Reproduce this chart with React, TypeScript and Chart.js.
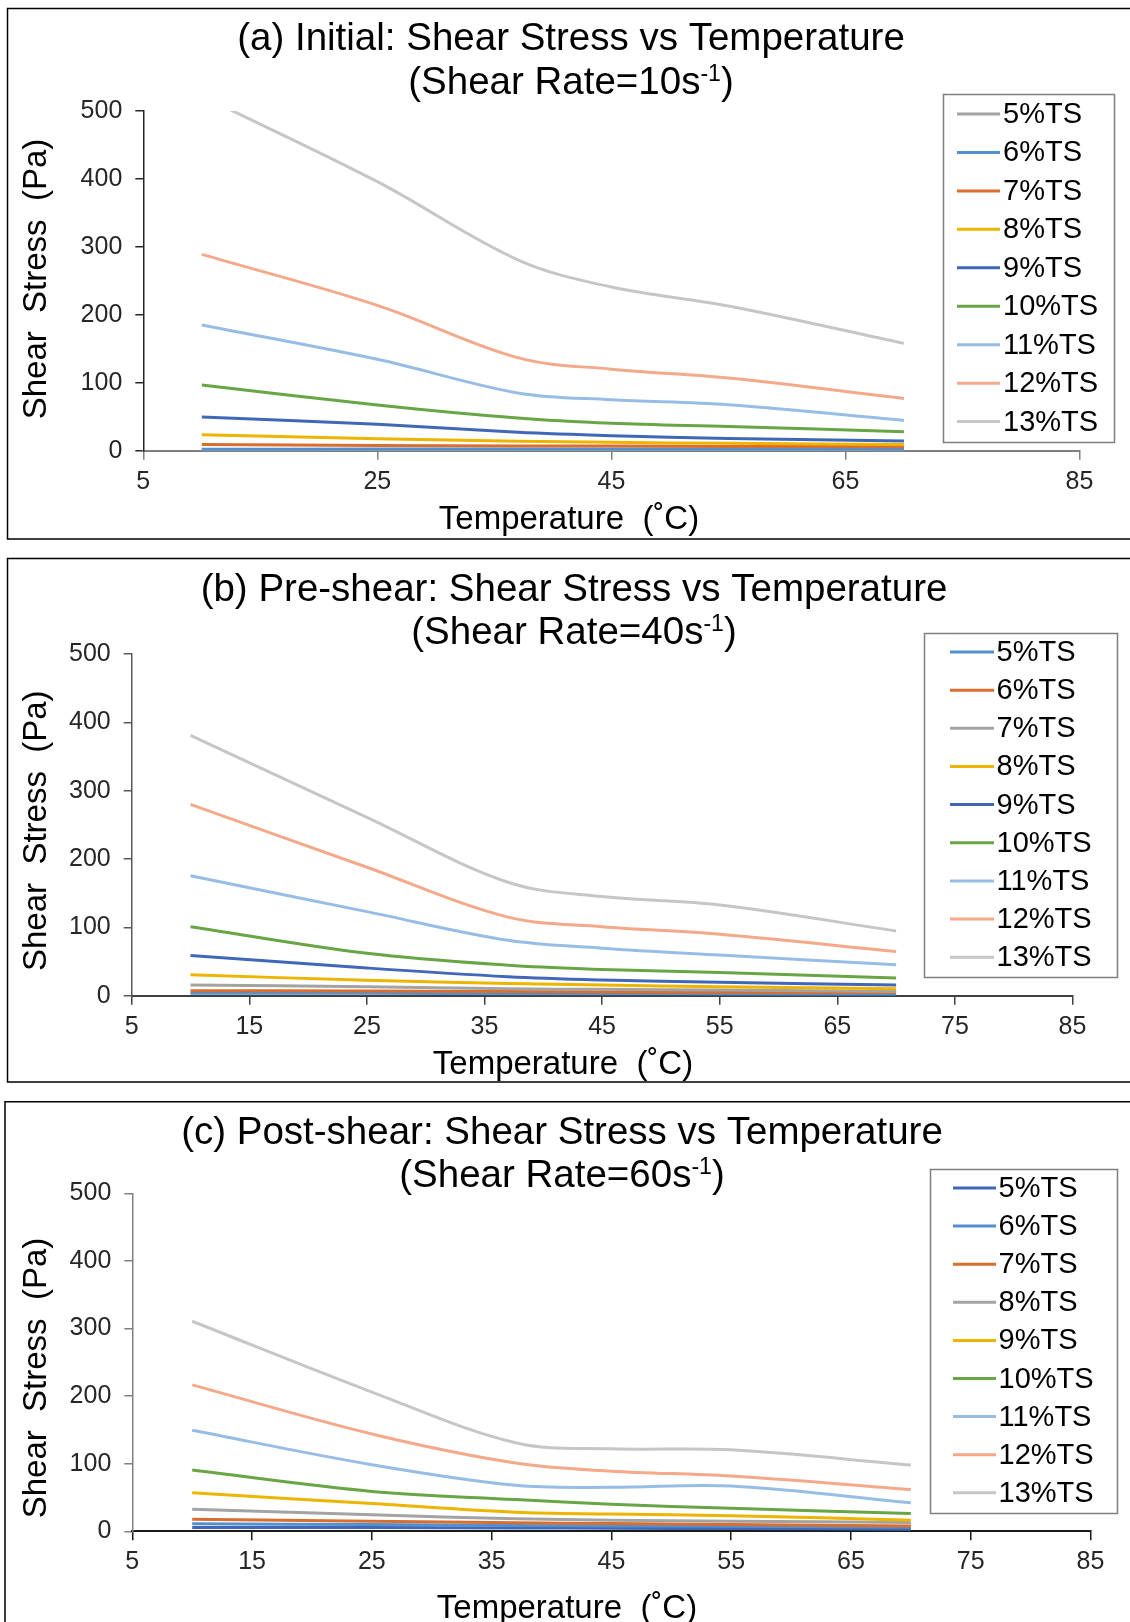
import React, { useEffect, useRef } from "react";
import { Chart, registerables } from "chart.js";

Chart.register(...registerables);

const FONT = '"Liberation Sans", Arial, Helvetica, "DejaVu Sans", sans-serif';

// ---------- data ----------
const TEMPERATURES = [10, 25, 37, 45, 55, 70];
const SERIES_LABELS = ["5%TS", "6%TS", "7%TS", "8%TS", "9%TS", "10%TS", "11%TS", "12%TS", "13%TS"];
const X_TICKS_A = [5, 25, 45, 65, 85];
const X_TICKS_BC = [5, 15, 25, 35, 45, 55, 65, 75, 85];
const Y_TICKS = [0, 100, 200, 300, 400, 500];

// (a) Initial, shear rate 10 s-1
const A_5TS = [0.6, 0.7, 0.7, 0.7, 0.7, 0.6];
const A_6TS = [2, 2.5, 2.5, 2.5, 2.5, 2.2];
const A_7TS = [9.3, 7.8, 7, 6.8, 6.3, 5.8];
const A_8TS = [23.5, 17.7, 14, 12.3, 10.8, 9];
const A_9TS = [49.5, 38.8, 27, 22, 18, 14.2];
const A_10TS = [96.7, 67.3, 48, 40.3, 35.5, 28];
const A_11TS = [185, 134.5, 85, 75, 67.5, 44.5];
const A_12TS = [289, 214, 137, 120, 107, 77];
const A_13TS = [522, 396, 281, 241, 213, 158];

// (b) Pre-shear, shear rate 40 s-1
const B_5TS = [3.5, 3.5, 3, 3, 2.5, 2];
const B_6TS = [7.3, 6.8, 6, 5.5, 5, 4.5];
const B_7TS = [15.7, 13, 10, 9.3, 8.3, 6.3];
const B_8TS = [30.7, 22.5, 18, 15.6, 13.2, 10.2];
const B_9TS = [59, 40.5, 27.8, 23, 19.5, 15.5];
const B_10TS = [101, 62, 44.5, 38.5, 34, 26];
const B_11TS = [175.6, 123, 81, 69.6, 59.5, 45.4];
const B_12TS = [280, 188, 115, 101, 90, 64.6];
const B_13TS = [381, 261, 166, 145, 132.7, 94.8];

// (c) Post-shear, shear rate 60 s-1
const C_5TS = [5.5, 5.5, 5, 4.5, 4, 3.2];
const C_6TS = [11, 10, 8.5, 8, 7.5, 6];
const C_7TS = [18, 15, 12.5, 11.5, 10, 8];
const C_8TS = [32.5, 24.5, 18.5, 16.5, 15, 13];
const C_9TS = [57, 41, 28, 25.5, 23, 16.5];
const C_10TS = [90.6, 59, 47, 40, 34, 26.5];
const C_11TS = [149.4, 98.5, 68, 65, 67, 42.3];
const C_12TS = [216.6, 144, 101, 89, 81.7, 61.7];
const C_13TS = [310.7, 206, 131, 122, 120.5, 98];

// ---------- styles ----------
const GRAY = "#A3A3A3";
const BLUE = "#5290CF";
const ORANGE = "#DA6E2E";
const YELLOW = "#EDB400";
const DBLUE = "#4168B8";
const GREEN = "#68A544";
const LBLUE = "#97BDE6";
const LORANGE = "#F4A98A";
const LGRAY = "#C6C6C6";

const TITLE_SIZE = 38.5;
const SUP_SIZE = 23;
const AXIS_TITLE_SIZE = 33;
const TICK_SIZE = 25;
const LEGEND_SIZE = 29;

type Spec = {
  key: string;
  top: number;
  height: number;
  series: number[][];
  colors: string[];
  xTicks: number[];
  plot: { left: number; right: number; top: number; bottom: number };
  frame: { left: number; top: number; bottom: number };
  title: { cx: number; b1: number; b2: number; line1: string; line2a: string; sup: string; line2b: string };
  yTitle: { x: number; cy: number };
  xTitle: { cx: number; b: number };
  legend: { x: number; y: number; w: number; h: number; firstY: number; step: number; lx1: number; lx2: number; tx: number };
  xColor: string;
  yColor: string;
};

const SPECS: Spec[] = [
  {
    key: "a",
    top: 0,
    height: 548,
    series: [A_5TS, A_6TS, A_7TS, A_8TS, A_9TS, A_10TS, A_11TS, A_12TS, A_13TS],
    colors: [GRAY, BLUE, ORANGE, YELLOW, DBLUE, GREEN, LBLUE, LORANGE, LGRAY],
    xTicks: X_TICKS_A,
    plot: { left: 143.3, right: 1079.5, top: 111, bottom: 450.7 },
    frame: { left: 7.5, top: 8.5, bottom: 539 },
    title: { cx: 571, b1: 50, b2: 94, line1: "(a) Initial: Shear Stress vs Temperature", line2a: "(Shear Rate=10s", sup: "-1", line2b: ")" },
    yTitle: { x: 34, cy: 279 },
    xTitle: { cx: 569, b: 529 },
    legend: { x: 943.5, y: 94.5, w: 171, h: 348, firstY: 114, step: 38.45, lx1: 957, lx2: 1000, tx: 1003 },
    xColor: "#7F7F7F",
    yColor: "#262626",
  },
  {
    key: "b",
    top: 548,
    height: 545,
    series: [B_5TS, B_6TS, B_7TS, B_8TS, B_9TS, B_10TS, B_11TS, B_12TS, B_13TS],
    colors: [BLUE, ORANGE, GRAY, YELLOW, DBLUE, GREEN, LBLUE, LORANGE, LGRAY],
    xTicks: X_TICKS_BC,
    plot: { left: 131.7, right: 1072.5, top: 106, bottom: 447.7 },
    frame: { left: 7.5, top: 10.5, bottom: 534 },
    title: { cx: 574, b1: 52.6, b2: 95.6, line1: "(b) Pre-shear: Shear Stress vs Temperature", line2a: "(Shear Rate=40s", sup: "-1", line2b: ")" },
    yTitle: { x: 34, cy: 282.7 },
    xTitle: { cx: 563, b: 526 },
    legend: { x: 924.5, y: 85.5, w: 193, h: 344, firstY: 104, step: 38.15, lx1: 950, lx2: 994, tx: 996.5 },
    xColor: "#404040",
    yColor: "#595959",
  },
  {
    key: "c",
    top: 1093,
    height: 529,
    series: [C_5TS, C_6TS, C_7TS, C_8TS, C_9TS, C_10TS, C_11TS, C_12TS, C_13TS],
    colors: [DBLUE, BLUE, ORANGE, GRAY, YELLOW, GREEN, LBLUE, LORANGE, LGRAY],
    xTicks: X_TICKS_BC,
    plot: { left: 132.3, right: 1090.5, top: 100.3, bottom: 438.3 },
    frame: { left: 5, top: 8.7, bottom: 900 },
    title: { cx: 562, b1: 50.6, b2: 93.6, line1: "(c) Post-shear: Shear Stress vs Temperature", line2a: "(Shear Rate=60s", sup: "-1", line2b: ")" },
    yTitle: { x: 34, cy: 285 },
    xTitle: { cx: 567, b: 525 },
    legend: { x: 930.5, y: 76.5, w: 187, h: 344, firstY: 95, step: 38.1, lx1: 953, lx2: 996, tx: 998.5 },
    xColor: "#1A1A1A",
    yColor: "#808080",
  },
];

const Y_AXIS_W = 70;
const X_AXIS_H = 50;
const CANVAS_W = 1130;

function decorPlugin(spec: Spec) {
  return {
    id: "decor_" + spec.key,
    afterDraw(chart: any) {
      const ctx: CanvasRenderingContext2D = chart.ctx;
      ctx.save();
      // panel frame
      const f = spec.frame;
      ctx.strokeStyle = "#000";
      ctx.lineWidth = 1.5;
      ctx.beginPath();
      ctx.moveTo(CANVAS_W + 10, f.top);
      ctx.lineTo(f.left, f.top);
      ctx.lineTo(f.left, f.bottom);
      ctx.lineTo(CANVAS_W + 10, f.bottom);
      ctx.stroke();

      // title
      const t = spec.title;
      ctx.fillStyle = "#000";
      ctx.textBaseline = "alphabetic";
      ctx.font = `${TITLE_SIZE}px ${FONT}`;
      ctx.textAlign = "center";
      ctx.fillText(t.line1, t.cx, t.b1);
      ctx.textAlign = "left";
      const wA = ctx.measureText(t.line2a).width;
      const wB = ctx.measureText(t.line2b).width;
      ctx.font = `${SUP_SIZE}px ${FONT}`;
      const wS = ctx.measureText(t.sup).width;
      let x = t.cx - (wA + wS + wB) / 2;
      ctx.font = `${TITLE_SIZE}px ${FONT}`;
      ctx.fillText(t.line2a, x, t.b2);
      x += wA;
      ctx.font = `${SUP_SIZE}px ${FONT}`;
      ctx.fillText(t.sup, x, t.b2 - 13);
      x += wS;
      ctx.font = `${TITLE_SIZE}px ${FONT}`;
      ctx.fillText(t.line2b, x, t.b2);

      // axis titles
      ctx.font = `${AXIS_TITLE_SIZE}px ${FONT}`;
      ctx.textAlign = "center";
      ctx.fillText("Temperature  (˚C)", spec.xTitle.cx, spec.xTitle.b);
      ctx.save();
      ctx.translate(spec.yTitle.x + AXIS_TITLE_SIZE * 0.358, spec.yTitle.cy);
      ctx.rotate(-Math.PI / 2);
      ctx.fillText("Shear  Stress  (Pa)", 0, 0);
      ctx.restore();

      // legend
      const lg = spec.legend;
      ctx.fillStyle = "#fff";
      ctx.fillRect(lg.x, lg.y, lg.w, lg.h);
      ctx.strokeStyle = "#7F7F7F";
      ctx.lineWidth = 1.5;
      ctx.strokeRect(lg.x, lg.y, lg.w, lg.h);
      ctx.font = `${LEGEND_SIZE}px ${FONT}`;
      ctx.textBaseline = "middle";
      ctx.textAlign = "left";
      chart.data.datasets.forEach((ds: any, i: number) => {
        const y = lg.firstY + i * lg.step;
        ctx.strokeStyle = ds.borderColor;
        ctx.lineWidth = 3;
        ctx.beginPath();
        ctx.moveTo(lg.lx1, y);
        ctx.lineTo(lg.lx2, y);
        ctx.stroke();
        ctx.fillStyle = "#000";
        ctx.fillText(ds.label, lg.tx, y + 1);
      });
      ctx.restore();
    },
  };
}

function buildConfig(spec: Spec): any {
  const n = SERIES_LABELS.length;
  const datasets = spec.series.map((vals, i) => ({
    label: SERIES_LABELS[i],
    data: TEMPERATURES.map((t, j) => ({ x: t, y: vals[j] })),
    borderColor: spec.colors[i],
    backgroundColor: spec.colors[i],
    borderWidth: 3,
    pointRadius: 0,
    pointHoverRadius: 0,
    tension: 0.35,
    fill: false,
    order: n - i,
  }));
  const p = spec.plot;
  return {
    type: "line",
    data: { datasets },
    options: {
      responsive: false,
      animation: false,
      devicePixelRatio: 1,
      events: [],
      layout: {
        padding: {
          left: p.left - Y_AXIS_W,
          right: CANVAS_W - p.right,
          top: p.top,
          bottom: spec.height - p.bottom - X_AXIS_H,
        },
      },
      plugins: {
        legend: { display: false },
        title: { display: false },
        tooltip: { enabled: false },
      },
      scales: {
        x: {
          type: "linear",
          min: 5,
          max: 85,
          afterBuildTicks: (scale: any) => {
            scale.ticks = spec.xTicks.map((v) => ({ value: v }));
          },
          afterFit: (scale: any) => {
            scale.height = X_AXIS_H;
          },
          ticks: {
            autoSkip: false,
            maxRotation: 0,
            minRotation: 0,
            padding: 7,
            color: "#262626",
            font: { family: FONT, size: TICK_SIZE },
          },
          grid: {
            display: true,
            drawOnChartArea: false,
            drawTicks: true,
            tickLength: 9,
            color: spec.xColor,
            lineWidth: 1.5,
          },
          border: { display: true, color: spec.xColor, width: 2 },
        },
        y: {
          type: "linear",
          min: 0,
          max: 500,
          afterBuildTicks: (scale: any) => {
            scale.ticks = Y_TICKS.map((v) => ({ value: v }));
          },
          afterFit: (scale: any) => {
            scale.width = Y_AXIS_W;
          },
          ticks: {
            padding: 13,
            color: "#262626",
            font: { family: FONT, size: TICK_SIZE },
          },
          grid: {
            display: true,
            drawOnChartArea: false,
            drawTicks: true,
            tickLength: 8,
            color: spec.yColor,
            lineWidth: 1.5,
          },
          border: { display: true, color: spec.yColor, width: 1.5 },
        },
      },
    },
    plugins: [decorPlugin(spec)],
  };
}

function Panel({ spec }: { spec: Spec }) {
  const ref = useRef<HTMLCanvasElement>(null);
  useEffect(() => {
    if (!ref.current) return;
    const chart = new Chart(ref.current, buildConfig(spec));
    return () => chart.destroy();
  }, [spec]);
  return (
    <canvas
      ref={ref}
      width={CANVAS_W}
      height={spec.height}
      style={{ position: "absolute", left: 0, top: spec.top, width: CANVAS_W, height: spec.height, display: "block" }}
    />
  );
}

export default function App() {
  return (
    <div
      style={{
        position: "absolute",
        left: 0,
        top: 0,
        width: CANVAS_W,
        height: 1622,
        overflow: "hidden",
        background: "#fff",
      }}
    >
      {SPECS.map((s) => (
        <Panel key={s.key} spec={s} />
      ))}
    </div>
  );
}
